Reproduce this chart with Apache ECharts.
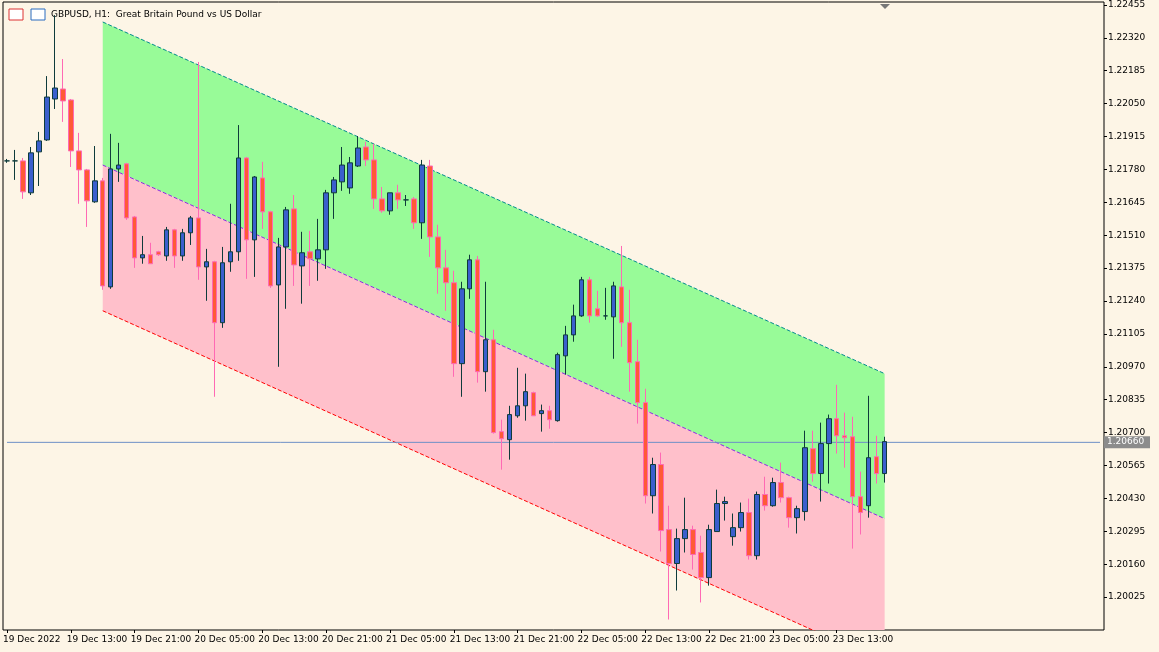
<!DOCTYPE html>
<html>
<head>
<meta charset="utf-8">
<script src="https://cdn.jsdelivr.net/npm/echarts@6/dist/echarts.min.js"></script>
<style>
html,body{margin:0;padding:0;background:#fdf5e6;}
#main{width:1159px;height:652px;}
</style>
</head>
<body>
<div id="main"></div>
<script>
// bars: [open, close, low, high], H1 from 19 Dec 05:00
var candles = [
[1.21815,1.21815,1.21807,1.21823],[1.21815,1.21815,1.21737,1.21860],[1.21815,1.21688,1.21659,1.21827],[1.21684,1.21848,1.21675,1.21872],
[1.21852,1.21897,1.21712,1.21934],[1.21901,1.22077,1.21897,1.22163],[1.22069,1.22114,1.22028,1.22413],[1.22110,1.22061,1.21975,1.22233],
[1.22065,1.21856,1.21790,1.22069],[1.21856,1.21778,1.21639,1.21930],[1.21778,1.21651,1.21544,1.21782],[1.21647,1.21733,1.21643,1.21876],
[1.21733,1.21302,1.21286,1.21745],[1.21298,1.21782,1.21290,1.21926],[1.21782,1.21798,1.21729,1.21889],[1.21803,1.21581,1.21573,1.21807],
[1.21585,1.21417,1.21376,1.21589],[1.21417,1.21430,1.21393,1.21507],[1.21430,1.21393,1.21393,1.21479],[1.21442,1.21430,1.21425,1.21446],
[1.21425,1.21532,1.21405,1.21544],[1.21532,1.21425,1.21376,1.21536],[1.21425,1.21520,1.21405,1.21536],[1.21520,1.21581,1.21470,1.21589],
[1.21581,1.21380,1.21327,1.22221],[1.21380,1.21401,1.21241,1.21454],[1.21401,1.21151,1.20847,1.21405],[1.21151,1.21397,1.21130,1.21462],
[1.21401,1.21442,1.21360,1.21639],[1.21442,1.21827,1.21405,1.21962],[1.21827,1.21491,1.21331,1.21831],[1.21491,1.21749,1.21339,1.21753],
[1.21745,1.21606,1.21536,1.21811],[1.21606,1.21302,1.21294,1.21610],[1.21306,1.21462,1.20970,1.21499],[1.21462,1.21614,1.21208,1.21626],
[1.21618,1.21388,1.21302,1.21675],[1.21384,1.21438,1.21229,1.21524],[1.21442,1.21413,1.21302,1.21528],[1.21413,1.21450,1.21323,1.21577],
[1.21450,1.21684,1.21372,1.21696],[1.21684,1.21737,1.21577,1.21749],[1.21729,1.21798,1.21692,1.21872],[1.21704,1.21807,1.21680,1.21831],
[1.21794,1.21868,1.21790,1.21917],[1.21872,1.21819,1.21794,1.21893],[1.21819,1.21659,1.21618,1.21885],[1.21659,1.21610,1.21602,1.21708],
[1.21610,1.21684,1.21594,1.21684],[1.21684,1.21655,1.21618,1.21717],[1.21655,1.21655,1.21630,1.21675],[1.21659,1.21561,1.21536,1.21667],
[1.21561,1.21798,1.21495,1.21819],[1.21794,1.21503,1.21421,1.21819],[1.21503,1.21376,1.21270,1.21553],[1.21376,1.21315,1.21200,1.21450],
[1.21315,1.20983,1.20929,1.21364],[1.20983,1.21290,1.20847,1.21319],[1.21290,1.21409,1.21249,1.21430],[1.21409,1.20950,1.20905,1.21425],
[1.20950,1.21081,1.20868,1.21319],[1.21081,1.20700,1.20696,1.21122],[1.20704,1.20675,1.20548,1.20753],[1.20671,1.20774,1.20589,1.20810],
[1.20769,1.20810,1.20761,1.20966],[1.20810,1.20868,1.20749,1.20942],[1.20864,1.20769,1.20769,1.20868],[1.20778,1.20790,1.20704,1.20815],
[1.20790,1.20753,1.20716,1.20810],[1.20749,1.21020,1.20745,1.21028],[1.21015,1.21101,1.20938,1.21138],[1.21101,1.21179,1.21073,1.21225],
[1.21179,1.21327,1.21175,1.21339],[1.21327,1.21179,1.21151,1.21339],[1.21208,1.21179,1.21175,1.21282],[1.21179,1.21179,1.21163,1.21294],
[1.21175,1.21302,1.21003,1.21319],[1.21298,1.21151,1.21052,1.21466],[1.21151,1.20987,1.20868,1.21286],[1.20991,1.20823,1.20737,1.21081],
[1.20823,1.20441,1.20409,1.20880],[1.20441,1.20569,1.20368,1.20597],[1.20569,1.20298,1.20212,1.20618],[1.20302,1.20163,1.19933,1.20400],
[1.20163,1.20265,1.20052,1.20306],[1.20265,1.20302,1.20208,1.20433],[1.20302,1.20200,1.20138,1.20318],[1.20208,1.20105,1.20003,1.20277],
[1.20105,1.20302,1.20072,1.20322],[1.20294,1.20409,1.20294,1.20466],[1.20409,1.20417,1.20339,1.20437],[1.20273,1.20310,1.20236,1.20368],
[1.20310,1.20372,1.20294,1.20413],[1.20372,1.20195,1.20179,1.20429],[1.20195,1.20446,1.20179,1.20458],[1.20446,1.20400,1.20380,1.20519],
[1.20400,1.20495,1.20396,1.20515],[1.20495,1.20433,1.20413,1.20577],[1.20433,1.20351,1.20310,1.20437],[1.20351,1.20388,1.20286,1.20400],
[1.20376,1.20638,1.20339,1.20708],[1.20634,1.20532,1.20499,1.20708],[1.20532,1.20655,1.20417,1.20741],[1.20655,1.20757,1.20491,1.20774],
[1.20757,1.20687,1.20614,1.20896],[1.20687,1.20679,1.20556,1.20782],[1.20683,1.20437,1.20224,1.20765],[1.20437,1.20372,1.20282,1.20540],
[1.20400,1.20597,1.20351,1.20851],[1.20601,1.20532,1.20491,1.20687],[1.20532,1.20663,1.20495,1.20683]
];
var timeLabels = ['19 Dec 2022','19 Dec 13:00','19 Dec 21:00','20 Dec 05:00','20 Dec 13:00','20 Dec 21:00','21 Dec 05:00',
  '21 Dec 13:00','21 Dec 21:00','22 Dec 05:00','22 Dec 13:00','22 Dec 21:00','23 Dec 05:00','23 Dec 13:00'];
var channelBars = [12, 110];
var channelTop = [1.22385, 1.20942];
var channelMid = [1.21798, 1.20347];
var channelLow = [1.21200, 1.19757];
var lastPrice = 1.20660;
var priceMin = 1.19890, priceMax = 1.22467, priceStep = 0.00135;

var totalSlots = 138;
var cats = [];
for (var i = 0; i < totalSlots; i++) cats.push(i % 8 === 0 && timeLabels[i / 8] ? timeLabels[i / 8] : '');
function showTick(i) { return i % 8 === 0 && i / 8 < timeLabels.length; }

var myChart = echarts.init(document.getElementById('main'));

function band(hiArr, loArr, color) {
	return {
		type: 'custom',
		z: 1,
		silent: true,
		clip: true,
		data: [0],
		renderItem: function(params, api) {
			var a = api.coord([channelBars[0], hiArr[0]]), b = api.coord([channelBars[1], hiArr[1]]);
			var c = api.coord([channelBars[1], loArr[1]]), d = api.coord([channelBars[0], loArr[0]]);
			var cs = params.coordSys;
			return {type: 'polygon', shape: {points: [a, b, c, d]}, style: {fill: color},
				clipPath: {type: 'rect', shape: {x: cs.x, y: cs.y, width: cs.width, height: cs.height}}};
		}
	};
}
function edge(arr, color, dash) {
	return {
		type: 'line', z: 2, silent: true, symbol: 'none', clip: true,
		data: [[channelBars[0], arr[0]], [channelBars[1], arr[1]]],
		lineStyle: {color: color, width: 1, type: dash}
	};
}

var option = {
	backgroundColor: '#fdf5e6',
	animation: false,
	grid: {left: 0, right: 55, top: 2, bottom: 22, show: true, borderColor: '#000', borderWidth: 1, containLabel: false},
	xAxis: {
		type: 'category', data: cats, boundaryGap: true,
		axisLine: {show: false},
		axisTick: {show: true, interval: showTick, length: 3, lineStyle: {color: '#000'}, alignWithLabel: true},
		axisLabel: {interval: showTick, color: '#000', fontSize: 9, fontFamily: 'DejaVu Sans', align: 'left', margin: 5, padding: [0, 0, 0, -4]},
		splitLine: {show: false}
	},
	yAxis: {
		type: 'value', position: 'right', min: priceMin, max: priceMax, interval: priceStep, scale: true,
		axisLine: {show: false},
		axisTick: {show: true, length: 3, lineStyle: {color: '#000'}},
		axisLabel: {color: '#000', fontSize: 9, fontFamily: 'DejaVu Sans', margin: 4, showMinLabel: false, showMaxLabel: false,
			formatter: function(v) { return v.toFixed(5); }},
		splitLine: {show: false}
	},
	series: [
		band(channelTop, channelMid, '#98fb98'),
		band(channelMid, channelLow, '#ffc0cb'),
		edge(channelTop, '#008b8b', 'dashed'),
		edge(channelMid, '#8a2be2', 'dashed'),
		edge(channelLow, '#ff0000', 'dashed'),
		{
			type: 'line', z: 2, silent: true, symbol: 'none',
			data: [[0, lastPrice], [totalSlots - 1, lastPrice]],
			lineStyle: {color: '#6d8fc7', width: 1}
		},
		{
			type: 'candlestick', z: 3,
			data: candles,
			barWidth: 5,
			itemStyle: {color: '#3a5fcd', color0: '#ff5a36', borderColor: '#0e3b3b', borderColor0: '#ff69b4', borderWidth: 1}
		}
	]
};
myChart.setOption(option);

var py = myChart.convertToPixel({yAxisIndex: 0}, lastPrice);
myChart.setOption({graphic: [
	{id: 'ic1', type: 'rect', shape: {x: 9, y: 9, width: 14, height: 11}, style: {fill: '#fff', stroke: '#d33', lineWidth: 1}},
	{id: 'ic2', type: 'rect', shape: {x: 31, y: 9, width: 14, height: 11}, style: {fill: '#fff', stroke: '#2a6cc0', lineWidth: 1}},
	{id: 'ttl', type: 'text', left: 51, top: 10, style: {text: 'GBPUSD, H1:  Great Britain Pound vs US Dollar', fill: '#000', font: '9px "DejaVu Sans"'}},
	{id: 'tri', type: 'polygon', shape: {points: [[880, 4], [890, 4], [885, 9]]}, style: {fill: '#777'}},
	{id: 'pbox', type: 'rect', z: 100, shape: {x: 1104, y: py - 6, width: 46, height: 12}, style: {fill: '#8c8c8c'}},
	{id: 'ptxt', type: 'text', z: 101, x: 1107, y: py - 5, style: {text: lastPrice.toFixed(5), fill: '#fff', font: '9px "DejaVu Sans"'}}
]});
</script>
</body>
</html>
